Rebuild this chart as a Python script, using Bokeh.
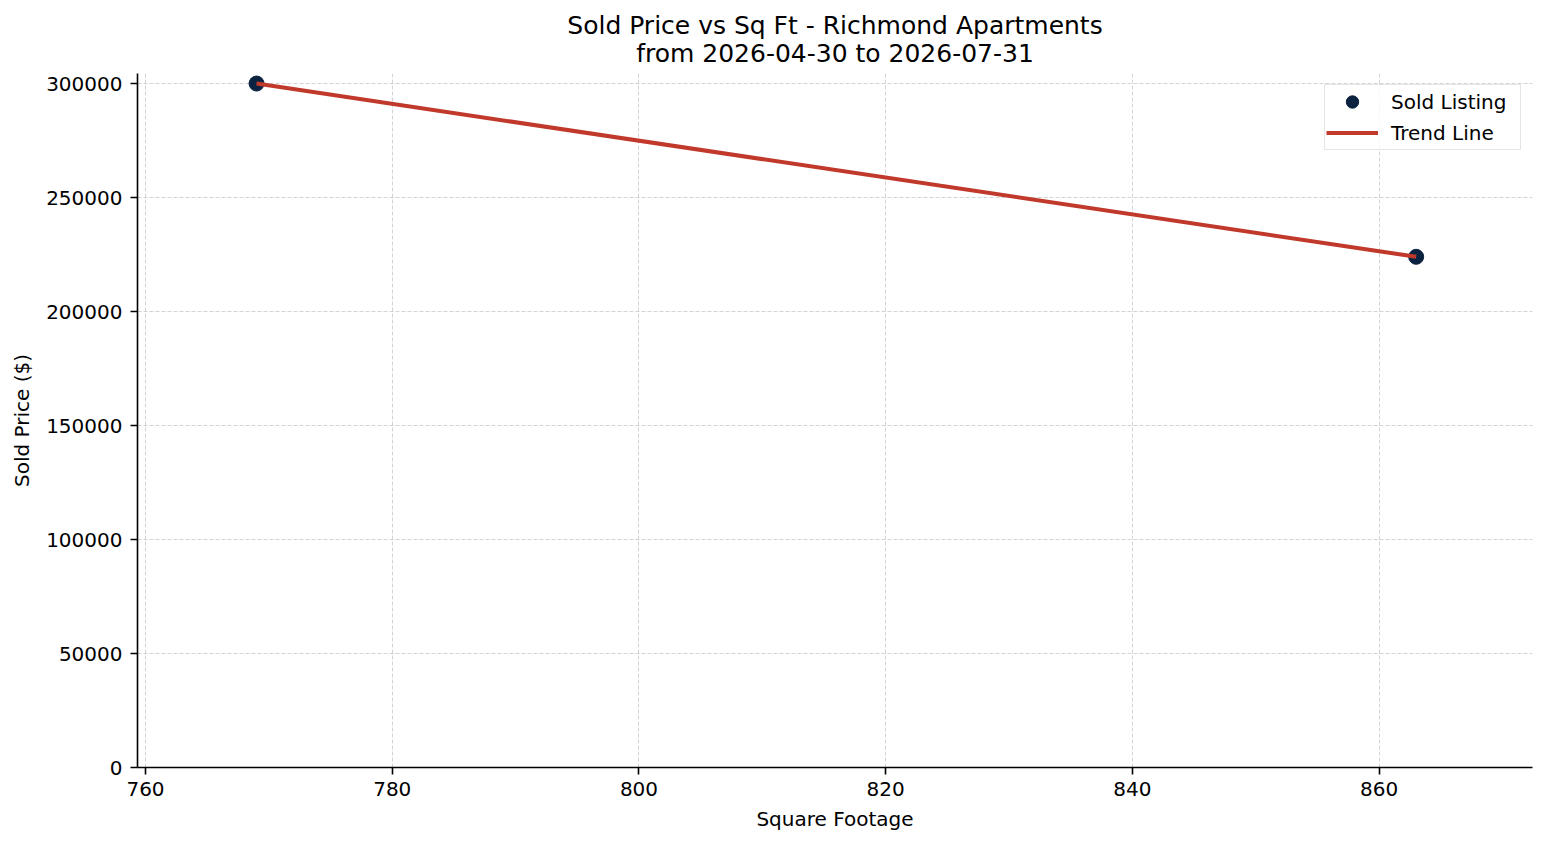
import numpy as np
from bokeh.plotting import figure
from bokeh.models import (Title, SingleIntervalTicker, NumeralTickFormatter,
                          Range1d, Legend, LegendItem)
from bokeh.embed import file_html
from bokeh.resources import INLINE

# ---- data ----
sqft = [769, 863]
sold_price = [300000, 224000]
title_line1 = "Sold Price vs Sq Ft - Richmond Apartments"
title_line2 = "from 2026-04-30 to 2026-07-31"
x_label = "Square Footage"
y_label = "Sold Price ($)"

# trend line from a linear fit of the data
coef = np.polyfit(sqft, sold_price, 1)
trend_x = [min(sqft), max(sqft)]
trend_y = [float(np.polyval(coef, v)) for v in trend_x]

FONT = "DejaVu Sans"
TICK_FS = "20px"
TITLE_FS = "25px"

p = figure(width=1547, height=845, output_backend="svg", toolbar_location=None,
           x_range=Range1d(759.35, 872.43), y_range=Range1d(0, 304400),
           min_border_left=137, min_border_right=15, min_border_bottom=78,
           min_border_top=73)

p.add_layout(Title(text=title_line2, align="center", text_font=FONT,
                   text_font_size=TITLE_FS, text_font_style="normal",
                   text_color="black", standoff=11), "above")
p.add_layout(Title(text=title_line1, align="center", text_font=FONT,
                   text_font_size=TITLE_FS, text_font_style="normal",
                   text_color="black", standoff=-16), "above")

p.outline_line_color = None
p.background_fill_color = "white"
p.border_fill_color = "white"

for ax in (p.xaxis[0], p.yaxis[0]):
    ax.axis_line_color = "black"
    ax.axis_line_width = 1.6
    ax.major_tick_line_color = "black"
    ax.major_tick_line_width = 1.6
    ax.major_tick_out = 7
    ax.major_tick_in = 0
    ax.minor_tick_line_color = None
    ax.major_label_text_font = FONT
    ax.major_label_text_font_size = TICK_FS
    ax.major_label_text_color = "black"
    ax.axis_label_text_font = FONT
    ax.axis_label_text_font_size = TICK_FS
    ax.axis_label_text_font_style = "normal"
    ax.axis_label_text_color = "black"

p.xaxis.ticker = SingleIntervalTicker(interval=20)
p.yaxis.ticker = SingleIntervalTicker(interval=50000)
p.yaxis.formatter = NumeralTickFormatter(format="0")
p.xaxis.axis_label = x_label
p.yaxis.axis_label = y_label
p.xaxis.major_label_standoff = 7
p.yaxis.major_label_standoff = 8
p.xaxis.axis_label_standoff = 8
p.yaxis.axis_label_standoff = 9

for g in (p.xgrid[0], p.ygrid[0]):
    g.grid_line_color = "#b0b0b0"
    g.grid_line_alpha = 0.55
    g.grid_line_dash = "4 2"
    g.grid_line_width = 1

pts = p.scatter(sqft, sold_price, size=15, color="#0b2341", line_color="#0b2341")
ln = p.line(trend_x, trend_y, line_color="#c0392b", line_width=4)

legend = Legend(items=[LegendItem(label="Sold Listing", renderers=[pts]),
                       LegendItem(label="Trend Line", renderers=[ln])],
                location="top_right", margin=11, padding=1, spacing=0,
                glyph_width=52, glyph_height=31, label_standoff=13,
                label_width=128,
                label_text_font=FONT, label_text_font_size=TICK_FS,
                label_text_color="black",
                border_line_color="#cccccc", border_line_width=1.5,
                background_fill_color="white", background_fill_alpha=0.8)
p.add_layout(legend)

open("out.html", "w").write(file_html(p, INLINE))
